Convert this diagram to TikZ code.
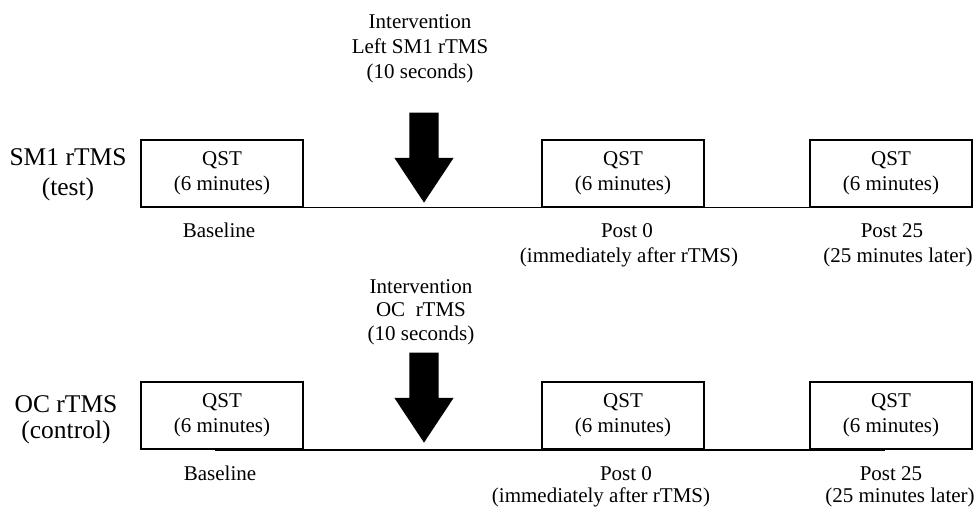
\documentclass[tikz,border=0pt]{standalone}
\usepackage{fontspec}
\setmainfont{Liberation Serif}
\usetikzlibrary{shapes.arrows}

\tikzset{
  qstbox/.style={draw, line width=1.1pt, minimum width=162pt, minimum height=67pt,
    align=center, inner sep=0pt, font=\fontsize{21}{25}\selectfont},
  txt/.style={anchor=base, inner sep=0pt, font=\fontsize{21}{25}\selectfont},
  rowlabel/.style={align=center, inner sep=0pt, font=\fontsize{25.5}{30}\selectfont},
  fatarrow/.style={single arrow, fill=black, rotate=-90, anchor=tip,
    inner xsep=0pt, inner ysep=14.5pt, minimum height=90pt,
    single arrow head extend=15pt, single arrow tip angle=67},
  timeline/.style={line width=1.1pt}
}

\begin{document}
\begin{tikzpicture}[x=1pt,y=1pt]
      \useasboundingbox (0,0) rectangle (974,-506);

      % QST boxes, two rows of three
      \foreach \r/\y in {a/-173.5,b/-415.5} {
        \foreach \n/\x in {base/222,postzero/623,postlate/891} {
          \node[qstbox] (\n\r) at (\x,\y) {QST\\(6 minutes)};
        }
      }

      % Row labels
      \node[rowlabel] (testlab) at (68,-174.5) {SM1 rTMS\\(test)};
      \node[rowlabel, font=\fontsize{25.5}{26}\selectfont] (ctrllab) at (66,-420) {OC rTMS\\(control)};

      % Time lines
      \draw[timeline] (basea.south east) -- (postlatea.south west);
      \coordinate (startb) at (215,-450);
      \coordinate (endb) at (885,-450);
      \draw[timeline] (startb) -- (endb);

      % Interventions
      \node[align=center, inner sep=0pt, font=\fontsize{21}{25}\selectfont] (intva) at (420,-48.3)
        {Intervention\\Left SM1 rTMS\\(10 seconds)};
      \node[align=center, inner sep=0pt, font=\fontsize{21}{23.5}\selectfont] (intvb) at (421,-311.8)
        {Intervention\\OC\ \ rTMS\\(10 seconds)};
      \node[fatarrow] (arra) at (424,-203) {};
      \node[fatarrow] (arrb) at (424,-443) {};

      % Labels under the boxes
      \node[txt] (bla) at (219,-237) {Baseline};
      \node[txt] (p0a) at (627,-237) {Post 0};
      \node[txt] (p0ax) at (629,-262) {(immediately after rTMS)};
      \node[txt] (p25a) at (892,-237) {Post 25};
      \node[txt] (p25ax) at (898,-262) {(25 minutes later)};

      \node[txt] (blb) at (220,-480) {Baseline};
      \node[txt] (p0b) at (626,-480) {Post 0};
      \node[txt] (p0bx) at (601,-502) {(immediately after rTMS)};
      \node[txt] (p25b) at (891,-480) {Post 25};
      \node[txt] (p25bx) at (900,-502) {(25 minutes later)};
    \end{tikzpicture}
\end{document}
